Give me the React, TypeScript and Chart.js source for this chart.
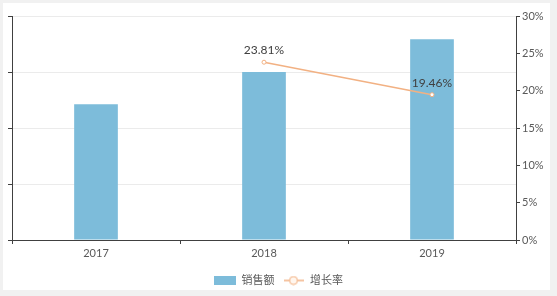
import React, { useEffect, useRef } from 'react';
import { Chart, registerables } from 'chart.js';

Chart.register(...registerables);

const years = ['2017', '2018', '2019'];
const sales = [242.5, 300.2, 358.6];
const growth: (number | null)[] = [null, 23.81, 19.46];
const seriesNames = ['销售额', '增长率'];

const FONT = 'Lato, "Noto Sans CJK SC", sans-serif';
const BAR_COLOR = '#7dbcda';
const LINE_COLOR = '#f2b183';
const AXIS_COLOR = '#404040';
const TEXT_COLOR = '#595959';

function makeBoxIcon() {
  const c = document.createElement('canvas');
  c.width = 22; c.height = 9;
  const g = c.getContext('2d')!;
  g.fillStyle = BAR_COLOR;
  g.fillRect(0, 0, 22, 9);
  return c;
}
function makeLineIcon() {
  const c = document.createElement('canvas');
  c.width = 20; c.height = 10;
  const g = c.getContext('2d')!;
  g.strokeStyle = LINE_COLOR;
  g.lineWidth = 1.5;
  g.beginPath(); g.moveTo(0, 5); g.lineTo(20, 5); g.stroke();
  g.beginPath(); g.arc(10, 5, 4, 0, Math.PI * 2);
  g.fillStyle = '#fff6ee'; g.fill(); g.lineWidth = 1; g.stroke();
  return c;
}

const labelPlugin = {
  id: 'pointLabels',
  afterDatasetsDraw(chart: any) {
    const meta = chart.getDatasetMeta(1);
    const ctx = chart.ctx;
    ctx.save();
    ctx.font = '12px ' + FONT;
    ctx.fillStyle = AXIS_COLOR;
    ctx.textAlign = 'center';
    ctx.textBaseline = 'middle';
    meta.data.forEach((pt: any, i: number) => {
      const v = growth[i];
      if (v == null) return;
      ctx.fillText(v.toFixed(2) + '%', pt.x, pt.y - 12);
    });
    ctx.restore();
  },
};

export default function App() {
  const ref = useRef<HTMLCanvasElement>(null);
  useEffect(() => {
    document.body.style.margin = '0';
    const boxIcon = makeBoxIcon();
    const lineIcon = makeLineIcon();
    const chart = new Chart(ref.current!, {
      type: 'bar',
      data: {
        labels: years,
        datasets: [
          {
            type: 'bar',
            label: seriesNames[0],
            data: sales,
            backgroundColor: BAR_COLOR,
            yAxisID: 'y',
            barPercentage: 0.52,
            categoryPercentage: 0.5,
            order: 1,
          },
          {
            type: 'line',
            label: seriesNames[1],
            data: growth,
            borderColor: LINE_COLOR,
            borderWidth: 1.5,
            backgroundColor: '#ffffff',
            pointRadius: 2,
            pointBorderWidth: 1,
            pointBorderColor: LINE_COLOR,
            pointBackgroundColor: '#ffffff',
            yAxisID: 'y1',
            order: 0,
          } as any,
        ],
      },
      options: {
        animation: false,
        responsive: false,
        maintainAspectRatio: false,
        layout: { padding: { top: 16, left: 0, right: 0, bottom: 0 } },
        plugins: {
          tooltip: { enabled: false },
          legend: {
            position: 'bottom',
            labels: {
              usePointStyle: true,
              pointStyleWidth: 22,
              boxHeight: 9,
              padding: 8,
              color: TEXT_COLOR,
              font: { family: FONT, size: 11 },
              generateLabels: () => [
                { text: seriesNames[0], pointStyle: boxIcon, fillStyle: BAR_COLOR, strokeStyle: BAR_COLOR, lineWidth: 0, datasetIndex: 0, fontColor: TEXT_COLOR } as any,
                { text: seriesNames[1], pointStyle: lineIcon, fillStyle: LINE_COLOR, strokeStyle: LINE_COLOR, lineWidth: 0, datasetIndex: 1, fontColor: TEXT_COLOR } as any,
              ],
            },
          },
        },
        scales: {
          x: {
            offset: true,
            grid: { display: true, drawOnChartArea: false, drawTicks: true, tickLength: 4, color: AXIS_COLOR, offset: true },
            border: { display: true, color: AXIS_COLOR, width: 1 },
            ticks: { color: TEXT_COLOR, font: { family: FONT, size: 11 }, padding: 3 },
            afterFit: (s: any) => { s.height = 27; },
          },
          y: {
            position: 'left',
            min: 0,
            max: 400,
            ticks: { display: false, stepSize: 100 },
            grid: { color: '#ebebeb', tickLength: 4, tickColor: AXIS_COLOR, drawTicks: true },
            border: { display: true, color: AXIS_COLOR, width: 1 },
            afterFit: (s: any) => { s.width = 12; },
          },
          y1: {
            position: 'right',
            min: 0,
            max: 30,
            ticks: {
              stepSize: 5,
              color: TEXT_COLOR,
              font: { family: FONT, size: 11 },
              padding: 2,
              callback: (v: any) => v + '%',
            },
            grid: { drawOnChartArea: false, tickLength: 4, color: AXIS_COLOR },
            border: { display: true, color: AXIS_COLOR, width: 1 },
            afterFit: (s: any) => { s.width = 41; },
          },
        },
      },
      plugins: [labelPlugin],
    });
    return () => chart.destroy();
  }, []);

  return (
    <div style={{ position: 'relative', width: 557, height: 296, background: '#f1f1f1', overflow: 'hidden' }}>
      <div style={{ position: 'absolute', left: 3, top: 3, width: 547, height: 287, background: '#ffffff' }} />
      <canvas ref={ref} width={557} height={296} style={{ position: 'absolute', left: 0, top: 0, width: 557, height: 296 }} />
    </div>
  );
}
